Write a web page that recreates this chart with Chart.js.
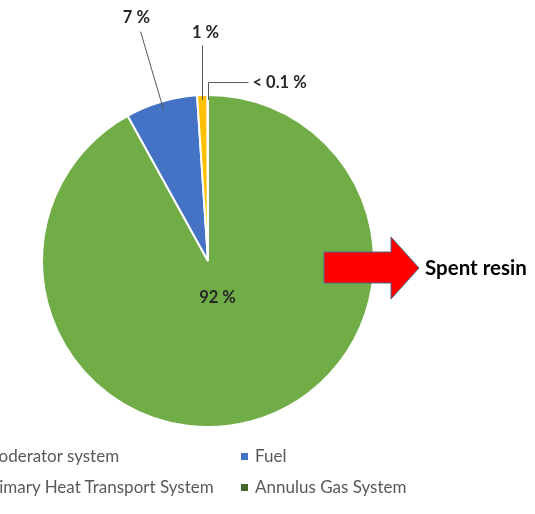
<!DOCTYPE html>
<html>
<head>
<meta charset="utf-8">
<script src="https://cdn.jsdelivr.net/npm/chart.js@4"></script>
<style>
  body { margin: 0; background: #fff; overflow: hidden; }
  #wrap { position: relative; width: 535px; height: 514px; }
  #legend { position: absolute; left: -31px; top: 445px; display: grid; grid-template-columns: 272px auto; row-gap: 9px;
            font: 17px Lato, sans-serif; color: #595959; }
  .item { display: flex; align-items: center; white-space: nowrap; line-height: 22px; }
  .box { width: 7px; height: 7px; margin-right: 7px; }
</style>
</head>
<body>
<div id="wrap">
  <canvas id="myChart" width="535" height="514"></canvas>
  <div id="legend"></div>
</div>
<script>
const labels = ["Moderator system", "Fuel", "Primary Heat Transport System", "Annulus Gas System"];
const shares = [92, 7, 1, 0.05];
const sliceText = ["92 %", "7 %", "1 %", "< 0.1 %"];
const colors = ["#70AD47", "#4472C4", "#FFC000", "#43682B"];

// labels with leader lines, placed from the arcs
const sliceLabels = {
  id: "sliceLabels",
  afterDatasetsDraw(chart) {
    const ctx = chart.ctx;
    const arcs = chart.getDatasetMeta(0).data;
    ctx.save();
    ctx.font = "bold 16.5px Lato, sans-serif";
    ctx.fillStyle = "#262626";
    ctx.strokeStyle = "#595959";
    ctx.lineWidth = 1;
    ctx.textBaseline = "middle";
    arcs.forEach((arc, i) => {
      const p = arc.getProps(["x", "y", "startAngle", "endAngle", "outerRadius"], true);
      const R = p.outerRadius;
      const mid = (p.startAngle + p.endAngle) / 2;
      const c = Math.cos(mid), s = Math.sin(mid);
      const txt = sliceText[i];
      ctx.textAlign = "center";
      if (i === 0) {
        ctx.fillText(txt, p.x + c * R * 0.23, p.y + s * R * 0.23);
      } else if (i === 1) {
        ctx.beginPath();
        ctx.moveTo(p.x + c * R * 0.95, p.y + s * R * 0.95);
        ctx.lineTo(p.x + c * R * 1.44, p.y + s * R * 1.44);
        ctx.stroke();
        ctx.fillText(txt, p.x + c * R * 1.53, p.y + s * R * 1.53);
      } else if (i === 2) {
        const px = Math.round(p.x + c * R * 0.97) + 0.5;
        ctx.beginPath();
        ctx.moveTo(px, p.y + s * R * 0.97);
        ctx.lineTo(px, p.y + s * R * 1.3);
        ctx.stroke();
        ctx.fillText(txt, px + 3, p.y + s * R * 1.375);
      } else {
        const px = Math.round(p.x + c * R * 0.97) + 0.5;
        const py = p.y + s * R * 0.97;
        const ly = Math.round(py - 18) + 0.5;
        ctx.beginPath();
        ctx.moveTo(px, py);
        ctx.lineTo(px, ly);
        ctx.lineTo(px + 40, ly);
        ctx.stroke();
        ctx.textAlign = "left";
        ctx.fillText(txt, px + 44, ly);
      }
    });
    ctx.restore();
  }
};

// red arrow + "Spent resin"
const spentResin = {
  id: "spentResin",
  afterDraw(chart) {
    const arc = chart.getDatasetMeta(0).data[0];
    const cx = arc.x, cy = arc.y;
    const ctx = chart.ctx;
    ctx.save();
    ctx.beginPath();
    ctx.moveTo(cx + 116, cy - 9);
    ctx.lineTo(cx + 183, cy - 9);
    ctx.lineTo(cx + 183, cy - 24);
    ctx.lineTo(cx + 211, cy + 7);
    ctx.lineTo(cx + 183, cy + 38);
    ctx.lineTo(cx + 183, cy + 22);
    ctx.lineTo(cx + 116, cy + 22);
    ctx.closePath();
    ctx.fillStyle = "#FF0000";
    ctx.fill();
    ctx.strokeStyle = "#4A6890";
    ctx.lineWidth = 1;
    ctx.stroke();
    ctx.font = "bold 20.5px Lato, sans-serif";
    ctx.fillStyle = "#000";
    ctx.textBaseline = "middle";
    ctx.fillText("Spent resin", cx + 217, cy + 7);
    ctx.restore();
  }
};

const myChart = new Chart(document.getElementById("myChart"), {
  type: "pie",
  data: {
    labels: labels,
    datasets: [{
      data: shares,
      backgroundColor: colors,
      borderColor: "#fff",
      borderWidth: 2
    }]
  },
  options: {
    responsive: false,
    animation: false,
    radius: 166,
    layout: { padding: { left: 42, right: 161, top: 95, bottom: 87 } },
    plugins: { legend: { display: false }, tooltip: { enabled: false } }
  },
  plugins: [sliceLabels, spentResin]
});

let body = "";
for (let i = 0; i < labels.length; i++)
  body += `<div class="item"><span class="box" style="background:${colors[i]}"></span>${labels[i]}</div>`;
document.getElementById("legend").innerHTML = body;
</script>
</body>
</html>
